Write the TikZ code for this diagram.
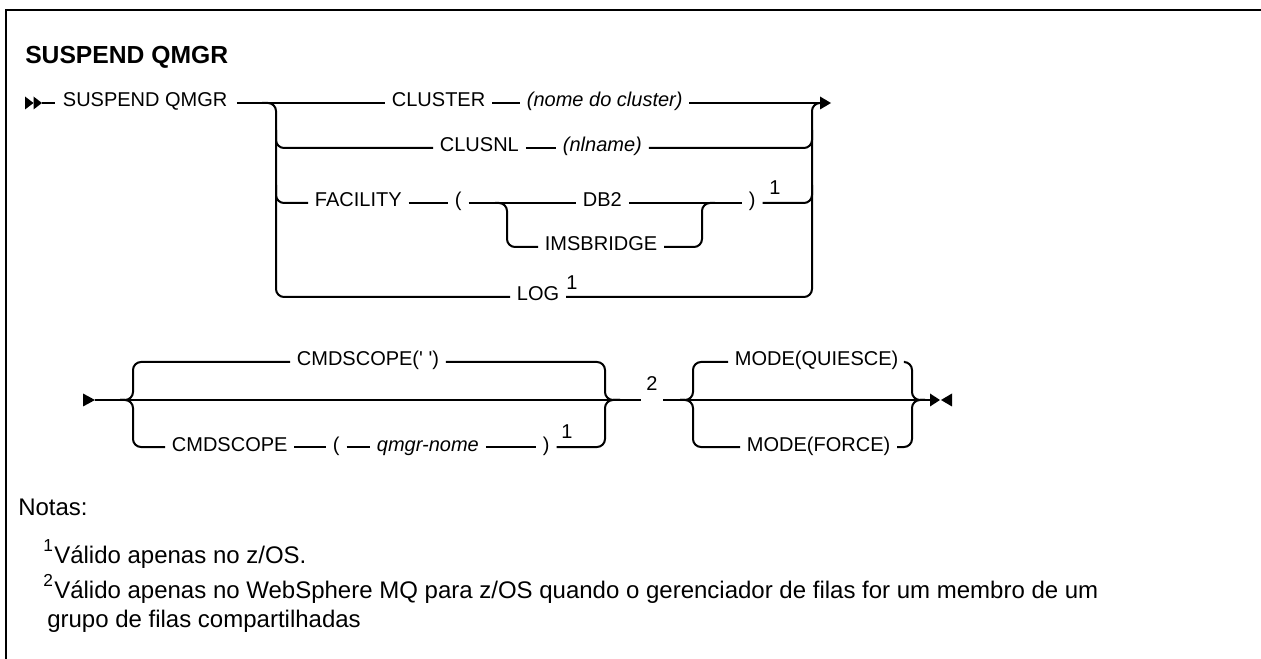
\documentclass[tikz,border=0pt]{standalone}
\usepackage{fontspec}
\setmainfont{Liberation Sans}
\newfontfamily\railfont{Liberation Sans}
\begin{document}
\begin{tikzpicture}[x=0.75pt,y=-0.75pt,
  rail/.style={line width=1.5pt, rounded corners=6pt, line cap=butt},
  lbl/.style={font=\railfont\fontsize{15}{18}\selectfont, inner xsep=5pt, inner ysep=0pt, text height=8pt, text depth=2pt, anchor=west},
  var/.style={lbl, font=\railfont\fontsize{15}{18}\selectfont\itshape},
  supn/.style={font=\railfont\fontsize{15}{17}\selectfont, inner sep=0pt},
  note/.style={font=\fontsize{18}{21}\selectfont, inner sep=0pt, anchor=base west},
  notesup/.style={font=\fontsize{13}{15}\selectfont, inner sep=0pt, anchor=base west},
  tip/.style={fill=black, draw=none}]
\useasboundingbox (0,0) rectangle (1261,659);
% frame
\draw[line width=2pt] (6,662) -- (6,10) -- (1264,10);
% title
\node[font=\bfseries\fontsize{18.5}{22}\selectfont, inner sep=0pt, anchor=base west] (title) at (25,64) {SUSPEND QMGR};

% ---------- row 1 ----------
\coordinate (st1) at (42,103);
\fill[tip] (25,96.5) -- (33.5,103) -- (25,109.5) -- cycle;
\fill[tip] (33.5,96.5) -- (42,103) -- (33.5,109.5) -- cycle;
\node[lbl] (susp) at (56,103) {SUSPEND QMGR};
\draw[rail] (st1) -- ([xshift=-1pt]susp.west);
\node[lbl] (clu) at (385,103) {CLUSTER};
\node[var] (cluname) at (520,103) {(nome do cluster)};
\coordinate (r1end) at (820,103);
\draw[rail] ([xshift=2pt]susp.east) -- (clu.west);
\draw[rail] (clu.east) -- (cluname.west);
\draw[rail] (cluname.east) -- (r1end);
\fill[tip] (r1end) ++(0,-6.5) -- ++(11,6.5) -- ++(-11,6.5) -- cycle;

% row 2
\node[lbl] (clusnl) at (433,148) {CLUSNL};
\node[var] (nlname) at (556,148) {(nlname)};
\draw[rail] (clusnl.east) -- (nlname.west);

% row 3
\node[lbl] (fac) at (308,203) {FACILITY};
\node[lbl] (lp) at (448,203) {(};
\node[lbl] (db2) at (576,203) {DB2};
\node[lbl] (ims) at (538,247) {IMSBRIDGE};
\node[lbl] (rp) at (742,203) {)};
\node[supn] (n1a) at (775,188) {1};
\draw[rail] (fac.east) -- (lp.west);
\draw[rail] (lp.east) -- (db2.west);
\draw[rail] (db2.east) -- (rp.west);
\coordinate (sbL) at (495,203);
\coordinate (sbR) at (715,203);
\draw[rail] (sbL) -- (507,203) -- (507,247) -- (ims.west);
\draw[rail] (ims.east) -- (702,247) -- (702,203) -- (sbR);

% row 4
\node[lbl] (log) at (510,297) {LOG};
\node[supn] (n1b) at (572,283) {1};

% left branch
\coordinate (bL) at (262,103);
\draw[rail] (bL) -- (276,103) -- (276,297) -- (log.west);
\draw[rail] (276,130) -- (276,148) -- (clusnl.west);
\draw[rail] (276,185) -- (276,203) -- (fac.west);
% right branch
\coordinate (bR) at (822,103);
\draw[rail] (log.east) -- (812,297) -- (812,103) -- (bR);
\draw[rail] (nlname.east) -- (812,148) -- (812,130);
\draw[rail] (rp.east) -- (812,203) -- (812,185);

% ---------- row 5 ----------
\coordinate (st2) at (95,400);
\fill[tip] (83,393.5) -- (95,400) -- (83,406.5) -- cycle;
\node[lbl] (cs1) at (290,362) {CMDSCOPE(' ')};
\node[lbl] (cs2) at (165,447) {CMDSCOPE};
\node[lbl] (lp2) at (326,447) {(};
\node[var] (qm) at (370,447) {qmgr-nome};
\node[lbl] (rp2) at (536,447) {)};
\node[supn] (n1c) at (567,432) {1};
\node[supn] (n2) at (652,384) {2};
\coordinate (jA) at (120,400);
\coordinate (jB) at (620,400);
\draw[rail] (st2) -- ([xshift=-4pt]n2.west |- st2);
\draw[rail] (jA) -- (133,400) -- (133,362) -- (cs1.west);
\draw[rail] (jA) -- (133,400) -- (133,447) -- (cs2.west);
\draw[rail] (cs2.east) -- (lp2.west);
\draw[rail] (lp2.east) -- (qm.west);
\draw[rail] (qm.east) -- (rp2.west);
\draw[rail] (cs1.east) -- (605,362) -- (605,400) -- (jB);
\draw[rail] (rp2.east) -- (605,447) -- (605,400) -- (jB);

\node[lbl] (mq) at (728,362) {MODE(QUIESCE)};
\node[lbl] (mf) at (740,447) {MODE(FORCE)};
\coordinate (jC) at (680,400);
\coordinate (jD) at (925,400);
\coordinate (end2) at (930,400);
\draw[rail] ([xshift=4pt]n2.east |- st2) -- (end2);
\draw[rail] (jC) -- (693,400) -- (693,362) -- (mq.west);
\draw[rail] (jC) -- (693,400) -- (693,447) -- (mf.west);
\draw[rail] (mq.east) -- (912,362) -- (912,400) -- (jD);
\draw[rail] (mf.east) -- (912,447) -- (912,400) -- (jD);
\fill[tip] (end2) ++(0,-6.5) -- ++(10,6.5) -- ++(-10,6.5) -- cycle;
\fill[tip] (952,393.5) -- (941,400) -- (952,406.5) -- cycle;

% ---------- notes ----------
\node[note] (notas) at (18,515) {Notas:};
\node[notesup] (s1) at (43,551) {1};
\node[note] (t1) at (54,563) {Válido apenas no z/OS.};
\node[notesup] (s2) at (43,586) {2};
\node[note] (t2) at (54,598) {Válido apenas no WebSphere MQ para z/OS quando o gerenciador de filas for um membro de um};
\node[note] (t3) at (47,627) {grupo de filas compartilhadas};
\end{tikzpicture}
\end{document}
